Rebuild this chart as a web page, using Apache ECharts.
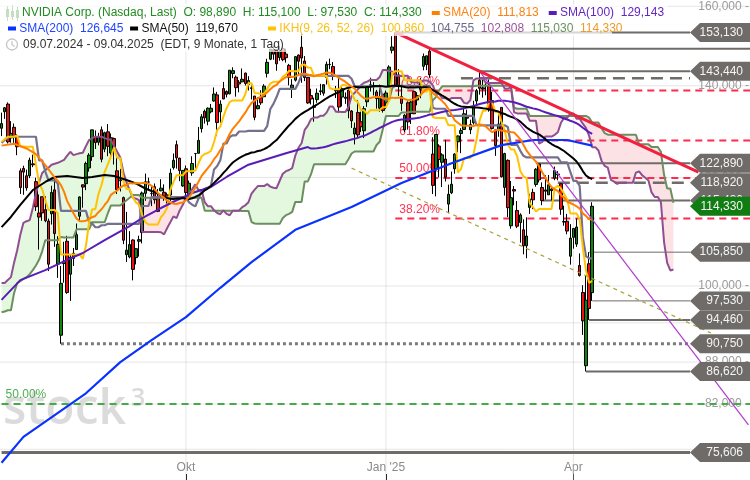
<!DOCTYPE html>
<html><head><meta charset="utf-8">
<script src="https://cdn.jsdelivr.net/npm/echarts/dist/echarts.min.js"></script>
<style>html,body{margin:0;padding:0;background:#fff}#c{width:750px;height:480px}</style>
</head><body><div id="c"></div>
<script>
// ---------- DATA (NVIDIA daily, 09.07.2024 - 09.04.2025) ----------
const opens = [130.35,134.03,135.75,128.26,130.56,128.44,121.35,121.85,120.35,120.35,122.78,119.17,113.04,116.19,113.69,111.52,112.90,
117.53,103.76,92.06,103.84,107.81,102.00,105.64,106.32,112.44,118.53,118.76,121.94,124.28,128.40,127.32,130.02,125.86,129.57,125.05,128.12,121.36,119.53,
116.01,105.41,104.99,108.04,104.88,107.81,109.39,116.84,119.08,116.79,118.17,115.89,117.35,117.06,116.55,116.52,122.02,126.80,123.97,118.31,
121.77,116.44,120.92,124.94,124.99,130.26,134.11,131.91,134.01,136.47,137.87,133.98,139.34,138.67,138.13,142.91,142.03,140.82,140.93,143.00,140.29,139.54,137.60,
134.70,137.21,137.45,142.96,146.39,148.77,148.68,146.78,149.07,147.64,144.87,139.50,141.32,147.41,149.35,145.93,141.99,137.70,135.01,136.78,
138.83,138.26,142.00,145.11,144.60,138.97,139.01,137.36,137.08,139.00,134.18,129.09,133.86,131.76,129.81,136.28,140.00,139.70,138.55,134.83,138.03,
136.00,140.01,148.59,153.03,142.58,137.45,129.99,136.05,133.65,138.64,136.69,139.16,144.66,145.05,148.37,124.80,121.81,126.50,123.10,123.78,
114.75,116.96,121.76,127.42,129.22,130.09,132.58,130.02,131.56,136.48,141.27,139.51,140.03,140.04,136.56,129.98,129.99,135.00,118.02,
123.51,110.65,117.58,113.53,111.25,109.90,106.99,114.12,117.03,118.61,122.74,118.00,117.27,116.55,117.38,119.88,120.55,118.73,111.35,111.49,105.13,
108.52,107.29,103.51,98.91,87.46,103.81,98.89];
const highs = [133.82,135.10,136.15,131.92,131.39,129.04,121.85,122.40,121.60,124.07,124.69,119.95,116.63,116.20,116.28,111.99,118.34,
120.16,108.72,103.41,107.71,108.80,105.50,106.60,111.07,116.23,118.60,123.24,125.00,130.00,129.88,129.35,130.75,129.60,131.26,129.20,128.33,124.43,121.75,
116.21,113.27,109.65,108.15,106.55,108.82,117.19,120.79,119.96,118.18,118.80,117.70,119.66,118.62,116.99,121.80,124.94,127.67,124.03,121.50,
122.44,119.38,124.36,125.04,130.64,133.48,134.52,135.00,135.78,139.60,138.57,136.62,140.89,138.90,143.71,144.42,142.43,141.35,144.13,143.14,142.26,140.33,137.61,
137.31,138.96,140.37,146.49,148.93,149.77,148.85,149.65,149.33,149.00,145.24,141.55,147.13,147.56,152.89,147.16,142.05,139.30,137.22,139.35,
140.45,140.08,145.79,146.54,145.70,139.95,141.82,140.17,138.44,139.60,134.40,131.59,136.70,134.03,135.28,139.79,141.90,140.85,139.02,140.27,138.07,
138.88,144.90,152.16,153.13,143.95,139.92,133.49,136.38,136.45,138.75,138.50,141.83,147.79,147.23,148.97,128.40,129.00,126.89,125.00,127.85,
118.57,121.20,125.00,128.77,130.37,135.00,134.48,132.24,136.50,139.25,143.44,141.36,140.67,141.46,138.59,130.20,133.73,135.01,125.09,
123.70,119.31,118.28,115.35,113.00,111.85,112.23,116.77,117.76,121.89,122.89,119.02,120.45,120.51,117.99,122.22,121.29,118.84,114.45,112.87,110.96,
110.20,111.98,105.63,100.13,101.75,105.85,115.10];
const lows = [128.65,132.42,127.05,127.22,127.18,124.58,116.72,116.56,117.37,119.86,122.10,113.44,106.30,111.58,111.30,102.54,110.88,
106.81,101.37,90.75,100.55,98.69,97.52,103.43,106.26,111.58,114.07,117.47,121.18,123.42,125.89,126.66,123.10,125.22,124.37,123.88,122.64,116.71,117.22,
107.29,104.12,104.76,100.95,103.69,105.06,107.42,115.38,117.60,114.36,114.83,113.22,117.25,115.39,114.86,115.38,121.61,121.80,119.26,118.15,
115.79,115.14,120.34,121.83,124.95,129.42,131.38,131.00,133.66,136.30,128.74,131.58,136.87,137.28,138.00,141.78,137.46,138.46,140.80,140.05,138.90,136.81,132.11,
134.57,135.57,137.33,141.96,146.17,146.26,143.57,146.01,145.90,145.55,140.08,137.15,140.99,142.73,140.70,141.10,135.82,135.67,131.80,136.05,
137.82,137.68,140.30,143.95,141.31,137.13,133.79,135.21,135.80,132.54,130.42,126.86,128.28,129.55,128.22,135.12,138.65,137.73,134.71,134.02,133.83,
134.63,139.73,147.82,140.01,137.56,134.22,129.51,130.05,131.29,133.49,135.46,137.09,143.67,143.72,141.88,116.70,116.25,120.05,118.10,119.19,
113.01,116.70,120.76,125.21,125.00,129.96,131.02,129.08,131.17,135.50,137.93,137.22,137.78,134.03,130.08,124.44,128.49,120.01,116.40,
112.28,110.11,114.51,110.22,107.56,105.46,104.77,112.88,113.79,118.15,119.00,114.54,115.63,116.55,115.44,119.45,119.43,112.70,110.66,109.07,103.65,
106.47,106.79,101.60,92.11,86.62,94.46,97.53];
const closes = [131.38,134.91,127.40,129.24,128.44,126.36,117.99,121.09,117.93,123.54,122.59,114.25,112.28,113.06,111.59,103.73,117.02,
109.21,107.27,100.45,104.25,98.91,104.97,104.75,109.02,116.14,118.08,122.86,124.58,130.00,127.25,128.50,123.74,129.37,126.46,128.30,125.61,117.59,119.37,
108.00,106.21,107.21,102.83,106.47,108.10,116.91,119.14,119.10,116.78,115.59,113.37,117.87,116.00,116.26,120.87,123.51,124.04,121.40,121.44,
117.00,118.85,122.85,124.92,127.72,132.89,132.65,134.81,134.80,138.07,131.60,135.72,136.93,138.00,143.71,143.59,139.56,140.41,141.54,140.52,141.25,139.34,132.76,
135.40,136.05,139.91,145.61,148.88,147.63,145.26,148.29,146.27,146.76,141.98,140.15,147.01,145.89,146.67,141.95,136.02,136.92,135.34,138.25,
138.63,140.26,145.14,145.06,142.44,138.81,135.07,139.31,137.34,134.25,132.00,130.39,128.91,130.68,134.70,139.67,140.22,139.93,137.01,137.49,134.29,
138.31,144.47,149.43,140.14,140.11,135.91,133.23,131.76,136.24,133.57,137.71,140.83,147.07,147.22,142.62,118.42,128.99,123.70,124.65,120.07,
116.66,118.65,124.83,128.68,129.84,133.57,132.80,131.14,135.29,138.85,139.40,139.23,140.11,134.43,130.28,126.63,131.28,120.15,124.92,
114.06,115.99,117.30,110.57,112.69,106.98,108.76,115.74,115.58,121.67,119.53,115.43,117.52,118.53,117.70,121.41,120.69,113.76,111.43,109.67,108.38,
110.15,110.42,101.80,94.31,97.64,96.30,114.33];

// x-axis month ticks (trading-day index) and labels
const monthIdx = [59, 123, 183];
const monthLabels = ['Okt', "Jan '25", 'Apr'];

const sma20Early  = [[0,126.6],[4,127.0],[8,126.0],[11,124.8],[14,122.5],[17,120.0],[18,119.3]];
const sma50Early  = [[0,110.4],[3,112.3],[6,114.6],[10,117.5],[14,119.1],[17,120.1],[21,120.3],[26,119.9],[29,120.1],[33,120.5],[36,120.3],[40,119.5],[43,118.8],[46,117.8],[48,117.3]];
const sma100Early = [[0,97.7],[6,101.0],[14,102.7],[21,104.5],[26,105.7],[33,108.0],[41,110.6],[45,112.1],[51,114.0],[56,115.5],[61,116.9],[67,118.1],[72,120.1],[79,122.6],[91,125.0],[98,126.3]];
const sma200Read  = [[0,74.3],[7,77.6],[17,80.5],[27,83.5],[38,88.0],[48,91.3],[59,94.9],[70,99.7],[80,104.1],[94,109.9],[112,114.2],[128,118.9],[144,122.9],[160,126.7],[170,127.8],[181,127.8],[189,126.6]];
const tenkanEarly = [127.4,128.0,128.5,128.5,128.5,128.8,126.4,126.4];
const kijunEarly  = [127.2,127.8,128.3,128.5,128.5,128.5,128.5,128.5,128.5,128.5,128.5,128.5,123.5,123.5,121.2,119.4,119.4,119.4,118.8,113.45,113.45,113.45,113.45,113.45,113.45];
const spanAEarly  = [100.5,100.5,101,101.5,104,106.2,109,111.2,111.5,111.7,114,116.9,119,120.9,121.5,122,122.6,122.8,123,123.3,
123.6,124.5,125.3,124.6,124.8,125,125.1,126.5,127.8,128.2,128.5,128.5,128.5,128.2,128,127.8,126.5,125.3,124.1,121,
119,117.5,116,115.8,115.5,109.5,109.5,109.5,109.5,109.5,109.5];
const spanBEarly  = [95.7,95.8,96.0,96.0,98.8,100.5,100.8,101.2,101.5,102.0,102.7,103.5,104.5,106.0,108.0,
108,108,108,108,108.6,108.5,108.5,108.5,108.5,110,110,110,110,110,111.3,111.3,111.3,111.3,111.3,113.0,
114.5,114.5,114.5,114.5,115.0,115.5,116.0,116.5,116.5,116.5,
116,116,116,116,116,116,116,116,116,116,116,116,116,116,116,116,116,116,116,116,
113.5,113.5,113.5,113.5,113.5,113.5,113.5,113.5,113.5,113.5,113.5,113.5];

// horizontal levels (value, start index)
const levelValues  = [153.13, 148.97, 143.44, 141.80, 122.89, 118.92, 115.43, 105.85, 97.53, 94.46, 90.75, 86.62, 75.606];
const levelStart   = [126, 137, 153, 147, 171, 178, 173, 188, 189, 188, 19, 187, 0];
const levelLabeled = [true, false, true, false, true, true, true, true, true, true, true, true, true];
const lastPrice = 114.33;
// Fibonacci retracement levels
const fibValues = [138.90, 127.72, 119.875, 112.03];
const fibLabels = ['78.60%', '61.80%', '50.00%', '38.20%'];
const fibStart = 126;
const fib2Value = 82.0, fib2Label = '50.00%';
// trend lines (index, value)
const redTrend = [[126, 153.13], [223, 121.1]];
const purpleTrend = [[153, 143.44], [239, 79.2]];
const oliveTrend = [[112, 121.9], [227, 92.4]];
// price axis grid/tick values
const tickValues = [160, 140, 120, 100, 94, 88, 82, 76];

// ---------- STYLES ----------
const FONT = '"Liberation Sans", Arial, sans-serif';
const N_CAT = 240;
const Y_MIN = 72.18, Y_MAX = 161.70;
const BOX_W = 60;
const GRAY = '#6f6b69';
const levelLook = ['line2','line2','line2','dash','line2','dash','line2','thin','thin','line2','dot','line2','thick'];
const LOOK = {
  line2: {w: 2, dash: null, color: GRAY},
  thin:  {w: 1, dash: null, color: GRAY},
  thick: {w: 3, dash: null, color: GRAY},
  dash:  {w: 2.5, dash: [12, 7], color: GRAY},
  dot:   {w: 3, dash: [3, 3], color: '#7a7a7a'}
};
const C = {sma20:'#ff7f00', sma50:'#000000', sma100:'#5a1cb8', sma200:'#0a32ff',
  tenkan:'#ffc400', kijun:'#76708f', spanA:'#8f4f90', spanB:'#6b8f5e'};
const CLOUD_UP = '#e3f8de', CLOUD_DOWN = '#fce2e5';

// ---------- BUILD ----------
const NB = closes.length;
const cats = Array.from({length: N_CAT}, (_, i) => String(i));
const fmt = v => v.toFixed(3).replace('.', ',');

function smaLine(n, early) {
  const out = new Array(N_CAT).fill(null);
  early.forEach(([i, v]) => { out[i] = v; });
  for (let i = n - 1; i < NB; i++) {
    let s = 0; for (let j = i - n + 1; j <= i; j++) s += closes[j];
    out[i] = s / n;
  }
  return out;
}
function readLine(pts) { const out = new Array(N_CAT).fill(null); pts.forEach(([i, v]) => { out[i] = v; }); return out; }
function mid(i, n) {
  let hi = -Infinity, lo = Infinity;
  for (let j = i - n + 1; j <= i; j++) { hi = Math.max(hi, highs[j]); lo = Math.min(lo, lows[j]); }
  return (hi + lo) / 2;
}
const sma20 = smaLine(20, sma20Early), sma50 = smaLine(50, sma50Early), sma100 = smaLine(100, sma100Early);
const sma200 = readLine(sma200Read);
const tenkan = new Array(N_CAT).fill(null), kijun = new Array(N_CAT).fill(null);
for (let i = 0; i < NB; i++) { tenkan[i] = i >= 8 ? mid(i, 9) : tenkanEarly[i]; kijun[i] = i >= 25 ? mid(i, 26) : kijunEarly[i]; }
const spanA = new Array(N_CAT).fill(null), spanB = new Array(N_CAT).fill(null);
for (let k = 0; k < NB + 26; k++) {
  spanA[k] = k <= 50 ? spanAEarly[k] : (tenkan[k - 26] + kijun[k - 26]) / 2;
  spanB[k] = k <= 76 ? spanBEarly[k] : mid(k - 26, 52);
}
const NCLOUD = NB + 26;

function lineSeries(name, data, color, w, z) {
  return {type: 'line', name, data, symbol: 'none', connectNulls: true, z: z || 5,
    lineStyle: {color, width: w}, itemStyle: {color}, silent: true};
}

// cloud: one polygon per run of same sign, split at crossings (in pixel space)
function renderCloud(params, api) {
  const pa = [], pb = [];
  for (let k = 0; k < NCLOUD; k++) { pa.push(api.coord([k, spanA[k]])); pb.push(api.coord([k, spanB[k]])); }
  const children = [];
  let top = [pa[0]], bot = [pb[0]];
  let sign = spanA[0] >= spanB[0];
  const flush = (s) => {
    if (top.length > 1) children.push({type: 'polygon', shape: {points: top.concat(bot.slice().reverse())},
      style: {fill: s ? CLOUD_UP : CLOUD_DOWN}});
  };
  for (let k = 1; k < NCLOUD; k++) {
    const s = spanA[k] >= spanB[k];
    if (s !== sign) {
      const d0 = pa[k - 1][1] - pb[k - 1][1], d1 = pa[k][1] - pb[k][1];
      const t = d0 / (d0 - d1);
      const xc = pa[k - 1][0] + t * (pa[k][0] - pa[k - 1][0]);
      const yc = pa[k - 1][1] + t * (pa[k][1] - pa[k - 1][1]);
      top.push([xc, yc]); bot.push([xc, yc]);
      flush(sign);
      top = [[xc, yc]]; bot = [[xc, yc]];
      sign = s;
    }
    top.push(pa[k]); bot.push(pb[k]);
  }
  flush(sign);
  return {type: 'group', children};
}

const option = {
  animation: false,
  grid: {left: -4, right: 0, top: 0, bottom: 0},
  xAxis: {type: 'category', data: cats, boundaryGap: true,
    axisLine: {show: false},
    axisTick: {show: true, inside: true, length: 6, alignWithLabel: true, interval: i => monthIdx.includes(i), lineStyle: {color: '#000'}},
    axisLabel: {show: true, inside: true, margin: 6, interval: i => monthIdx.includes(i),
      formatter: (v, i) => { const k = monthIdx.indexOf(Number(v)); return k >= 0 ? monthLabels[k] : ''; },
      color: '#8a8a8a', fontSize: 12, fontFamily: FONT},
    splitLine: {show: false}},
  yAxis: {type: 'log', logBase: 10, min: Y_MIN, max: Y_MAX,
    axisLine: {show: false}, axisTick: {show: false}, axisLabel: {show: false}, splitLine: {show: false}},
  series: [
    // Ichimoku cloud fill
    {type: 'custom', z: 1, silent: true, encode: {x: 0, y: 1}, data: [[0, 100]], renderItem: renderCloud},
    // price grid + tick labels
    {type: 'custom', z: 2, silent: true, encode: {x: 0, y: 1}, data: tickValues.map(v => [0, v]),
      renderItem(params, api) {
        const cs = params.coordSys, right = cs.x + cs.width;
        const y = api.coord([0, api.value(1)])[1];
        return {type: 'group', children: [
          {type: 'line', shape: {x1: 0, y1: y, x2: right, y2: y}, style: {stroke: 'rgba(200,200,200,0.45)', lineWidth: 1}},
          {type: 'text', style: {text: fmt(api.value(1)) + ' -', x: right - 1, y: y, align: 'right', textAlign: 'right',
            verticalAlign: 'middle', textVerticalAlign: 'middle', fill: '#9b9b9b', font: '12px ' + FONT}}
        ]};
      }},
    // month grid lines
    {type: 'custom', z: 2, silent: true, encode: {x: 0, y: 1}, data: monthIdx.map(i => [i, 100]),
      renderItem(params, api) {
        const cs = params.coordSys; const x = api.coord([api.value(0), 100])[0];
        return {type: 'line', shape: {x1: x, y1: cs.y, x2: x, y2: cs.y + cs.height}, style: {stroke: 'rgba(200,200,200,0.45)', lineWidth: 1}};
      }},
    // horizontal level lines
    {type: 'custom', z: 3, silent: true, encode: {x: 0, y: 1}, data: levelValues.map((v, i) => [levelStart[i], v, i]),
      renderItem(params, api) {
        const cs = params.coordSys, right = cs.x + cs.width, i = api.value(2);
        const p = api.coord([api.value(0), api.value(1)]);
        const look = LOOK[levelLook[i]];
        const x1 = levelLabeled[i] || levelLook[i] === 'dash' ? right - BOX_W : right;
        return {type: 'line', shape: {x1: Math.max(p[0], 0), y1: p[1], x2: x1, y2: p[1]},
          style: {stroke: look.color, lineWidth: look.w, lineDash: look.dash}};
      }},
    // Fibonacci lines
    {type: 'custom', z: 3, silent: true, encode: {x: 0, y: 1},
      data: fibValues.map((v, i) => [fibStart, v, i, 0]).concat([[0, fib2Value, 0, 1]]),
      renderItem(params, api) {
        const cs = params.coordSys, right = cs.x + cs.width;
        const p = api.coord([api.value(0), api.value(1)]);
        const green = api.value(3) === 1;
        const col = green ? '#46aa46' : '#ff2a4d';
        const label = green ? fib2Label : fibLabels[api.value(2)];
        const x0 = Math.max(p[0], 0);
        return {type: 'group', children: [
          {type: 'line', shape: {x1: x0, y1: p[1], x2: right, y2: p[1]}, style: {stroke: col, lineWidth: 2, lineDash: [7, 5]}},
          {type: 'text', style: {text: label, x: x0 + 4, y: p[1] - 3, align: 'left', textAlign: 'left', verticalAlign: 'bottom',
            textVerticalAlign: 'bottom', fill: green ? '#4caf50' : '#ff3355', font: '12px ' + FONT}}
        ]};
      }},
    // candles
    {type: 'candlestick', z: 4, silent: true, barWidth: 3,
      data: opens.map((o, i) => [o, closes[i], lows[i], highs[i]]),
      itemStyle: {color: '#0b870b', color0: '#ee1111', borderColor: '#000', borderColor0: '#000', borderWidth: 1}},
    // Ichimoku lines
    lineSeries('spanB', spanB, C.spanB, 2),
    lineSeries('spanA', spanA, C.spanA, 2),
    lineSeries('kijun', kijun, C.kijun, 2.2),
    lineSeries('tenkan', tenkan, C.tenkan, 2),
    // SMAs
    lineSeries('SMA200', sma200, C.sma200, 2.2),
    lineSeries('SMA100', sma100, C.sma100, 2),
    lineSeries('SMA50', sma50, C.sma50, 2),
    lineSeries('SMA20', sma20, C.sma20, 2),
    // trend lines
    {type: 'line', data: oliveTrend, symbol: 'none', z: 6, silent: true, lineStyle: {color: '#a8a23a', width: 1.2, type: [4, 4]}},
    {type: 'line', data: purpleTrend, symbol: 'none', z: 6, silent: true, lineStyle: {color: '#b23ad0', width: 1.2}},
    {type: 'line', data: redTrend, symbol: 'none', z: 6, silent: true, lineStyle: {color: '#f2203f', width: 3}},
    // value boxes at right
    {type: 'custom', z: 10, silent: true, encode: {x: 0, y: 1},
      data: levelValues.map((v, i) => [levelStart[i], v, i, 0]).filter(d => levelLabeled[d[2]]).concat([[NB - 1, lastPrice, -1, 1]]),
      renderItem(params, api) {
        const cs = params.coordSys, right = cs.x + cs.width;
        const y = api.coord([api.value(0), api.value(1)])[1];
        const cur = api.value(3) === 1;
        const l = right - BOX_W, h = 9.5;
        return {type: 'group', children: [
          {type: 'polygon', shape: {points: [[l, y], [l + 10, y - h], [right, y - h], [right, y + h], [l + 10, y + h]]},
            style: {fill: cur ? '#0f7d12' : GRAY}},
          {type: 'text', style: {text: fmt(api.value(1)), x: right - 7, y: y, align: 'right', textAlign: 'right',
            verticalAlign: 'middle', textVerticalAlign: 'middle', fill: '#f4f4f4', font: '12px ' + FONT}}
        ]};
      }}
  ],
  graphic: [
    // watermark
    {type: 'text', x: 3, y: 386, z: 0, silent: true, style: {text: 'stock', font: '600 48px "Open Sans", sans-serif', fill: 'rgba(200,200,200,0.65)'}},
    {type: 'text', x: 131, y: 386, z: 0, silent: true, style: {text: '3', font: '600 25px "Open Sans", sans-serif', fill: 'rgba(200,200,200,0.65)'}},
    // legend backgrounds
    {type: 'rect', z: 100, silent: true, shape: {x: 0, y: 4, width: 668, height: 17}, style: {fill: 'rgba(255,255,255,0.72)'}},
    {type: 'rect', z: 100, silent: true, shape: {x: 0, y: 21, width: 612, height: 15}, style: {fill: 'rgba(255,255,255,0.72)'}},
    {type: 'rect', z: 100, silent: true, shape: {x: 0, y: 37, width: 290, height: 15}, style: {fill: 'rgba(255,255,255,0.72)'}},
    // candle icon
    {type: 'group', z: 101, silent: true, children: [
      {type: 'line', shape: {x1: 7.5, y1: 6, x2: 7.5, y2: 21}, style: {stroke: '#2a8a22', lineWidth: 1}},
      {type: 'rect', shape: {x: 6, y: 9, width: 3, height: 8}, style: {fill: '#2a8a22'}},
      {type: 'line', shape: {x1: 12.5, y1: 5, x2: 12.5, y2: 20}, style: {stroke: '#2a8a22', lineWidth: 1}},
      {type: 'rect', shape: {x: 11, y: 11, width: 3, height: 6}, style: {fill: '#2a8a22'}},
      {type: 'line', shape: {x1: 17.5, y1: 7, x2: 17.5, y2: 21}, style: {stroke: '#2a8a22', lineWidth: 1}},
      {type: 'rect', shape: {x: 16, y: 10, width: 3, height: 8}, style: {fill: '#2a8a22'}}
    ]},
    // clock icon
    {type: 'group', z: 101, silent: true, children: [
      {type: 'circle', shape: {cx: 12, cy: 44.5, r: 5.5}, style: {fill: 'none', stroke: '#333', lineWidth: 1.3}},
      {type: 'polyline', shape: {points: [[12, 41], [12, 44.5], [14.5, 46.5]]}, style: {fill: 'none', stroke: '#333', lineWidth: 1.2}}
    ]},
    {type: 'text', z: 101, silent: true, x: 22, y: 13, style: {
      text: '{g|NVIDIA Corp. (Nasdaq, Last)  O: 98,890  H: 115,100  L: 97,530  C: 114,330}   {od| } {o|SMA(20)  111,813}   {pd| } {p|SMA(100)  129,143}',
      verticalAlign: 'middle', textVerticalAlign: 'middle', font: '12px ' + FONT,
      rich: {
        g: {fill: '#228b22', fontSize: 12, fontFamily: FONT},
        od: {backgroundColor: C.sma20, width: 8, height: 4, fontSize: 4},
        o: {fill: '#ff8010', fontSize: 12, fontFamily: FONT},
        pd: {backgroundColor: C.sma100, width: 8, height: 4, fontSize: 4},
        p: {fill: '#6428c0', fontSize: 12, fontFamily: FONT}
      }}},
    {type: 'text', z: 101, silent: true, x: 8, y: 28.5, style: {
      text: '{bd| } {b|SMA(200)  126,645}  {kd| } {k|SMA(50)  119,670}',
      verticalAlign: 'middle', textVerticalAlign: 'middle', font: '12px ' + FONT,
      rich: {
        bd: {backgroundColor: C.sma200, width: 8, height: 4, fontSize: 4},
        b: {fill: '#2244ff', fontSize: 12, fontFamily: FONT},
        kd: {backgroundColor: '#000', width: 8, height: 4, fontSize: 4},
        k: {fill: '#111', fontSize: 12, fontFamily: FONT}
      }}},
    {type: 'text', z: 101, silent: true, x: 268, y: 28.5, style: {
      text: '{yd| } {y|IKH(9, 26, 52, 26)  100,860}  {s|104,755}  {m|102,808}  {gr|115,030}  {or|114,330}',
      verticalAlign: 'middle', textVerticalAlign: 'middle', font: '12px ' + FONT,
      rich: {
        yd: {backgroundColor: C.tenkan, width: 8, height: 4, fontSize: 4},
        y: {fill: '#f7c21a', fontSize: 12, fontFamily: FONT},
        s: {fill: '#6e6888', fontSize: 12, fontFamily: FONT},
        m: {fill: '#9a559a', fontSize: 12, fontFamily: FONT},
        gr: {fill: '#6b8f5e', fontSize: 12, fontFamily: FONT},
        or: {fill: '#ee9a2a', fontSize: 12, fontFamily: FONT}
      }}},
    {type: 'text', z: 101, silent: true, x: 23, y: 44.5, style: {
      text: '09.07.2024 - 09.04.2025  (EDT, 9 Monate, 1 Tag)', fill: '#333',
      verticalAlign: 'middle', textVerticalAlign: 'middle', font: '12px ' + FONT}}
  ]
};
const chart = echarts.init(document.getElementById('c'));
chart.setOption(option);
</script></body></html>
